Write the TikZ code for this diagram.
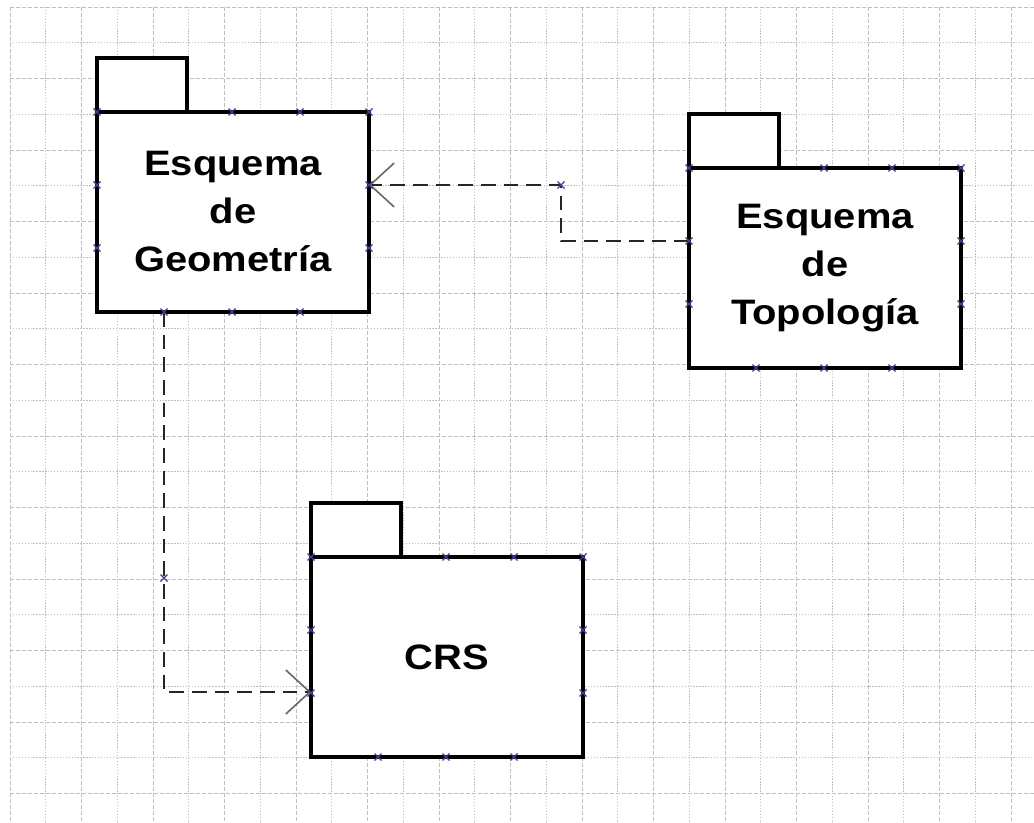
\documentclass[tikz,border=0pt]{standalone}
\usepackage{fontspec}
\newfontfamily\lab[FakeStretch=1.13]{Liberation Sans}
\usetikzlibrary{arrows.meta,calc}
\begin{document}
\begin{tikzpicture}[x=0.75pt,y=-0.75pt,
  gridA/.style={draw=black!25, line width=0.6pt, dash pattern=on 3pt off 1.5pt},
  gridB/.style={draw=black!25, line width=0.6pt, dash pattern=on 1pt off 1.2pt},
  pkg/.style={draw=black, line width=2.8pt, fill=white, minimum width=204pt, minimum height=150pt,
    inner sep=0pt, outer sep=0pt, align=center, font=\lab\bfseries\fontsize{26.5pt}{36pt}\selectfont},
  tabbox/.style={draw=black, line width=2.8pt, fill=white, minimum width=67.5pt, minimum height=40.5pt,
    inner sep=0pt, outer sep=0pt, anchor=south west},
  dep/.style={draw=black!85, line width=2pt, dash pattern=on 11pt off 6pt,
    -{Straight Barb[length=18pt,width=33pt,line width=1.2pt,color=black!60]}},
  mk/.pic={\draw[line width=0.9pt, color=blue!45!black!75] (-3.5,-3.5)--(3.5,3.5) (-3.5,3.5)--(3.5,-3.5);}
]
\useasboundingbox[fill=white] (0,0) rectangle (1034,823);
% grid
\foreach \i in {0,2,...,28} \draw[gridA] ({10+35.75*\i},7) -- ({10+35.75*\i},823);
\foreach \i in {1,3,...,27} \draw[gridB] ({10+35.75*\i},7) -- ({10+35.75*\i},823);
\foreach \j in {0,2,...,22} \draw[gridA] (10,{7+35.75*\j}) -- (1034,{7+35.75*\j});
\foreach \j in {1,3,...,21} \draw[gridB] (10,{7+35.75*\j}) -- (1034,{7+35.75*\j});
% packages
\node[pkg] (geo) at (233,212) {Esquema\\de\\Geometría};
\node[tabbox] (geotab) at (geo.north west) {};
\node[pkg] (topo) at (825,268) {Esquema\\de\\Topología};
\node[tabbox] (topotab) at (topo.north west) {};
\node[pkg] (crs) at (447,657) {CRS};
\node[tabbox] (crstab) at (crs.north west) {};
% connectors
\coordinate (c1) at (561,185);
\coordinate (c2) at (164,578);
\draw[dep] ($(topo.north west)+(0,73)$) -| (c1) -- ($(geo.north east)+(0,73)$);
\draw[dep] ($(geo.south west)+(67,0)$) |- ($(crs.north west)+(0,135)$);
% connection markers
\foreach \b in {geo,topo,crs}
  \foreach \dx/\dy in {0/0,135/0,203/0,272/0,0/73,0/136,272/73,272/136,67/200,135/200,203/200}
    \pic at ($(\b.north west)+(\dx,\dy)$) {mk};
\pic at (c1) {mk};
\pic at (c2) {mk};
\end{tikzpicture}
\end{document}
